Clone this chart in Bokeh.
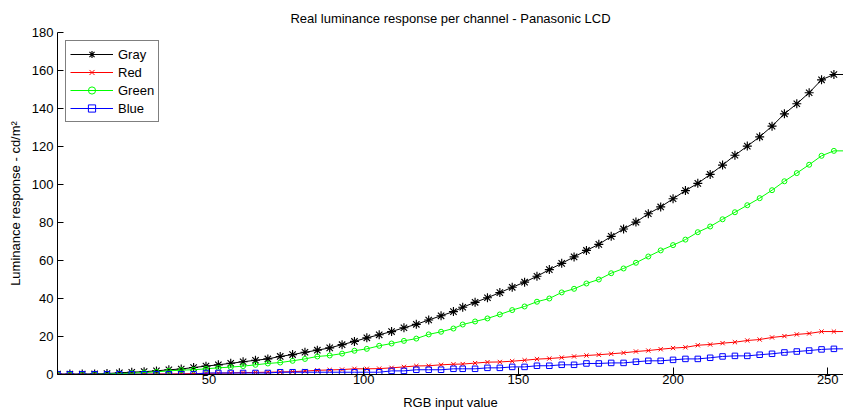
from bokeh.plotting import figure
from bokeh.models import Range1d, FixedTicker, Legend, LegendItem
from bokeh.embed import file_html
from bokeh.resources import INLINE

# RGB input values (65 samples)
x_vals = [1, 5, 9, 13, 17, 21, 25, 29, 33, 37, 41, 45, 49, 53, 57, 61, 65,
          69, 73, 77, 81, 85, 89, 93, 97, 101, 105, 109, 113, 117, 121, 125,
          129, 132, 136, 140, 144, 148, 152, 156, 160, 164, 168, 172, 176,
          180, 184, 188, 192, 196, 200, 204, 208, 212, 216, 220, 224, 228,
          232, 236, 240, 244, 248, 252, 256]

gray = [0.2, 0.2, 0.2, 0.3, 0.5, 0.9, 1.2, 1.5, 1.9, 2.5, 2.9, 3.7, 4.4, 5.1,
        5.9, 6.7, 7.5, 8.2, 9.5, 10.5, 11.7, 12.8, 14.0, 15.7, 17.4, 19.3,
        20.9, 22.6, 24.6, 26.4, 28.7, 30.9, 33.1, 35.4, 38.0, 40.4, 43.1,
        45.9, 48.6, 51.7, 55.2, 58.5, 61.9, 65.3, 68.5, 72.7, 76.6, 80.2,
        84.6, 88.2, 92.5, 96.8, 100.6, 105.3, 110.2, 115.4, 120.2, 125.1,
        130.7, 137.2, 142.5, 148.3, 155.1, 157.9, 157.9]

red = [0.1, 0.1, 0.1, 0.1, 0.1, 0.2, 0.2, 0.2, 0.3, 0.3, 0.4, 0.5, 0.6, 0.7,
       0.8, 1.0, 1.1, 1.2, 1.3, 1.5, 1.8, 2.2, 2.4, 2.6, 3.0, 3.0, 3.1, 3.5,
       4.0, 4.5, 4.6, 5.1, 5.4, 5.5, 6.0, 6.5, 6.6, 7.0, 7.5, 8.1, 8.4, 8.9,
       9.5, 10.0, 10.4, 10.9, 11.4, 12.1, 12.6, 13.3, 13.9, 14.3, 15.4, 15.8,
       16.5, 17.0, 17.9, 18.4, 19.5, 20.2, 21.1, 21.6, 22.6, 22.6, 22.6]

green = [0.0, 0.0, 0.1, 0.1, 0.3, 0.5, 0.7, 1.0, 1.4, 1.9, 2.3, 2.5, 3.0, 3.5,
         3.9, 4.4, 5.1, 5.8, 6.3, 7.2, 8.2, 9.5, 10.0, 11.0, 12.5, 13.5, 15.1,
         16.3, 17.7, 18.9, 21.1, 22.5, 24.2, 26.3, 27.9, 29.5, 31.6, 33.9,
         35.8, 38.3, 40.0, 43.2, 45.1, 47.9, 50.0, 53.3, 55.8, 58.8, 62.1,
         65.3, 68.1, 71.0, 74.9, 77.9, 81.7, 85.4, 89.1, 92.8, 97.0, 101.7,
         106.0, 110.4, 115.1, 117.7, 117.7]

blue = [0.1, 0.1, 0.1, 0.1, 0.1, 0.1, 0.1, 0.1, 0.1, 0.1, 0.1, 0.1, 0.8, 0.8,
        0.8, 0.8, 0.8, 0.8, 1.2, 1.2, 1.2, 1.2, 1.2, 1.2, 1.2, 1.2, 1.2, 1.9,
        1.9, 2.5, 2.5, 2.5, 3.0, 3.0, 3.0, 3.5, 3.5, 4.0, 4.0, 4.6, 4.6, 5.1,
        5.1, 5.8, 5.8, 6.1, 6.1, 6.7, 7.2, 7.2, 7.7, 8.2, 8.2, 8.8, 9.5, 9.8,
        9.8, 10.4, 10.9, 11.6, 12.1, 12.6, 13.2, 13.5, 13.5]

y_ticks = [0, 20, 40, 60, 80, 100, 120, 140, 160, 180]
x_ticks = [50, 100, 150, 200, 250]

FONT = "Liberation Sans"

p = figure(width=843, height=412, output_backend="svg",
           toolbar_location=None,
           x_range=Range1d(1, 255.1), y_range=Range1d(0, 180),
           min_border_left=57, min_border_right=0, min_border_top=32,
           min_border_bottom=38,
           title="Real luminance response per channel - Panasonic LCD")

p.outline_line_color = None
p.background_fill_color = "white"
p.border_fill_color = "white"
p.xgrid.grid_line_color = None
p.ygrid.grid_line_color = None

p.title.align = "center"
p.title.text_font = FONT
p.title.text_font_size = "13px"
p.title.text_font_style = "normal"
p.title.text_color = "black"
p.title.offset = 0
p.title.standoff = 14

for ax in (p.xaxis[0], p.yaxis[0]):
    ax.axis_line_color = "black"
    ax.axis_line_width = 1
    ax.major_tick_line_color = "black"
    ax.minor_tick_line_color = None
    ax.major_tick_out = 0
    ax.major_label_text_font = FONT
    ax.major_label_text_font_size = "13px"
    ax.major_label_text_color = "black"
    ax.axis_label_text_font = FONT
    ax.axis_label_text_font_size = "13px"
    ax.axis_label_text_font_style = "normal"
    ax.axis_label_text_color = "black"

p.xaxis.ticker = FixedTicker(ticks=x_ticks)
p.yaxis.ticker = FixedTicker(ticks=y_ticks)
p.xaxis.major_tick_in = 7
p.yaxis.major_tick_in = 6
p.xaxis.major_label_standoff = 0
p.yaxis.major_label_standoff = 4
p.xaxis.axis_label = "RGB input value"
p.xaxis.axis_label_standoff = 8
p.yaxis.axis_label = "Luminance response - cd/m\u00b2"
p.yaxis.axis_label_standoff = 6

series = [
    ("Gray", gray, "black", "asterisk", 9, 1.15),
    ("Red", red, "#ff0000", "x", 6, 1.0),
    ("Green", green, "#00ff00", "circle", 5, 1.0),
    ("Blue", blue, "#0000ff", "square", 5.5, 1.0),
]

items = []
for name, ys, col, mk, sz, mlw in series:
    ln = p.line(x_vals, ys, line_color=col, line_width=1)
    sc = p.scatter(x_vals, ys, marker=mk, size=sz, line_color=col,
                   fill_color=None, line_width=mlw)
    items.append(LegendItem(label=name, renderers=[ln, sc]))

legend = Legend(items=items, location="top_left")
legend.margin = 8
legend.padding = 4
legend.spacing = 0
legend.glyph_height = 18
legend.glyph_width = 43
legend.label_height = 18
legend.label_standoff = 5
legend.label_text_font = FONT
legend.label_text_font_size = "13px"
legend.label_text_color = "black"
legend.border_line_color = "black"
legend.border_line_width = 1
legend.background_fill_color = "white"
legend.background_fill_alpha = 1.0
p.add_layout(legend)

open("out.html", "w").write(file_html(p, INLINE))
